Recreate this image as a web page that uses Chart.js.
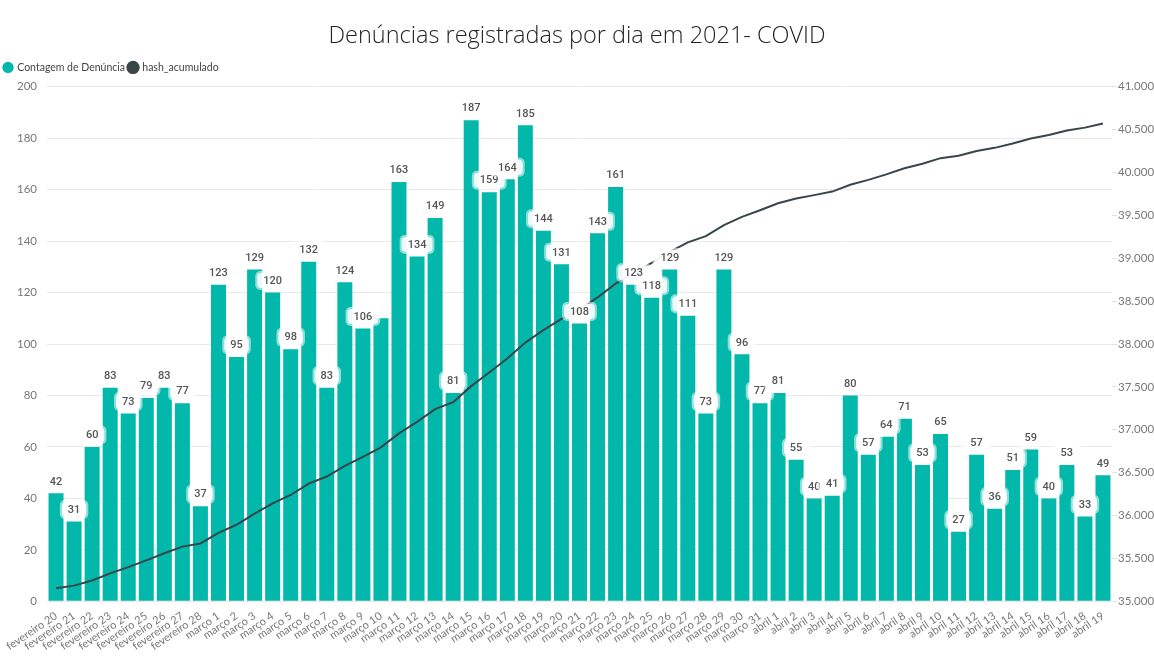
<!DOCTYPE html>
<html>
<head>
<meta charset="utf-8">
<script src="https://cdn.jsdelivr.net/npm/chart.js@4/dist/chart.umd.min.js"></script>
<style>
  html, body { margin: 0; padding: 0; background: #fff; }
  #wrap { width: 1154px; height: 665px; position: relative; }
</style>
</head>
<body>
<div id="wrap"><canvas id="denunciasChart"></canvas></div>
<script>
// dias (eixo x)
const dias = [
  'fevereiro 20', 'fevereiro 21', 'fevereiro 22', 'fevereiro 23', 'fevereiro 24', 'fevereiro 25',
  'fevereiro 26', 'fevereiro 27', 'fevereiro 28',
  'março 1', 'março 2', 'março 3', 'março 4', 'março 5', 'março 6', 'março 7', 'março 8', 'março 9',
  'março 10', 'março 11', 'março 12', 'março 13', 'março 14', 'março 15', 'março 16', 'março 17',
  'março 18', 'março 19', 'março 20', 'março 21', 'março 22', 'março 23', 'março 24', 'março 25',
  'março 26', 'março 27', 'março 28', 'março 29', 'março 30', 'março 31',
  'abril 1', 'abril 2', 'abril 3', 'abril 4', 'abril 5', 'abril 6', 'abril 7', 'abril 8', 'abril 9',
  'abril 10', 'abril 11', 'abril 12', 'abril 13', 'abril 14', 'abril 15', 'abril 16', 'abril 17',
  'abril 18', 'abril 19'
];

// Contagem de Denúncia
const contagem = [
  42, 31, 60, 83, 73, 79, 83, 77, 37,
  123, 95, 129, 120, 98, 132, 83, 124, 106, 110, 163, 134, 149, 81, 187, 159, 164, 185, 144, 131,
  108, 143, 161, 123, 118, 129, 111, 73, 129, 96, 77,
  81, 55, 40, 41, 80, 57, 64, 71, 53, 65, 27, 57, 36, 51, 59, 40, 53, 33, 49
];

// hash_acumulado (eixo direito)
const acumulado = [
  35152, 35183, 35243, 35326, 35399, 35478, 35561, 35638, 35675,
  35798, 35893, 36022, 36142, 36240, 36372, 36455, 36579, 36685, 36795, 36958, 37092, 37241, 37322,
  37509, 37668, 37832, 38017, 38161, 38292, 38400, 38543, 38704, 38827, 38945, 39074, 39185, 39258,
  39387, 39483, 39560,
  39641, 39696, 39736, 39777, 39857, 39914, 39978, 40049, 40102, 40167, 40194, 40251, 40287, 40338,
  40397, 40437, 40490, 40523, 40572
];

// rótulos que o Power BI escondeu
const rotulosOcultos = ['março 10'];

// formato 41.000
function milhar(v) {
  return String(v).replace(/\B(?=(\d{3})+(?!\d))/g, '.');
}

// Rótulos de dados por cima das barras (e da linha)
const rotulosPlugin = {
  id: 'rotulos',
  afterDatasetsDraw(chart) {
    const ctx = chart.ctx;
    const meta = chart.getDatasetMeta(0);
    ctx.save();
    ctx.font = '500 11px Roboto';
    ctx.textAlign = 'center';
    ctx.textBaseline = 'middle';
    meta.data.forEach((bar, i) => {
      if (rotulosOcultos.includes(dias[i])) return;
      const txt = String(contagem[i]);
      const w = ctx.measureText(txt).width + 12;
      const h = 15;
      const cx = bar.x;
      const cy = bar.y - 12;
      ctx.fillStyle = 'rgba(255,255,255,0.55)';
      ctx.beginPath();
      ctx.roundRect(cx - w / 2 - 2, cy - h / 2 - 2, w + 4, h + 4, 5);
      ctx.fill();
      ctx.fillStyle = 'rgba(255,255,255,0.85)';
      ctx.beginPath();
      ctx.roundRect(cx - w / 2, cy - h / 2, w, h, 4);
      ctx.fill();
      ctx.fillStyle = '#555';
      ctx.fillText(txt, cx, cy + 0.5);
    });
    ctx.restore();
  }
};

// um pouco mais de espaço abaixo da legenda
const legendaEspaco = {
  id: 'legendaEspaco',
  beforeInit(chart) {
    const fitOrig = chart.legend.fit;
    chart.legend.fit = function () {
      fitOrig.bind(chart.legend)();
      this.height += 4;
    };
  }
};

const ctx = document.getElementById('denunciasChart').getContext('2d');
var chart = new Chart(ctx, {
  type: 'bar',
  data: {
    labels: dias,
    datasets: [{
      label: 'Contagem de Denúncia',
      data: contagem,
      backgroundColor: '#01B8AA',
      borderWidth: 0,
      barPercentage: 0.83,
      categoryPercentage: 1,
      yAxisID: 'y',
      order: 1
    }, {
      type: 'line',
      label: 'hash_acumulado',
      data: acumulado,
      borderColor: '#374649',
      backgroundColor: '#374649',
      borderWidth: 2,
      pointRadius: 0,
      tension: 0,
      yAxisID: 'y2',
      order: 0
    }]
  },
  options: {
    responsive: true,
    maintainAspectRatio: false,
    animation: false,
    layout: { padding: { left: 0, right: 0, top: 0, bottom: 12 } },
    plugins: {
      title: {
        display: true,
        text: 'Denúncias registradas por dia em 2021- COVID',
        color: '#252423',
        font: { family: 'Open Sans', size: 23.5, weight: 300 },
        padding: { top: 22, bottom: 8 }
      },
      legend: {
        display: true,
        align: 'start',
        labels: {
          usePointStyle: true,
          pointStyle: 'circle',
          boxWidth: 8,
          boxHeight: 8,
          padding: 4,
          color: '#444',
          font: { family: 'Lato', size: 10.5 },
          sort: (a, b) => a.datasetIndex - b.datasetIndex
        }
      },
      tooltip: { enabled: false }
    },
    scales: {
      x: {
        offset: true,
        grid: { display: false },
        border: { display: false },
        ticks: {
          autoSkip: false,
          maxRotation: 34,
          minRotation: 34,
          color: '#777',
          padding: 0,
          font: { family: 'Lato', size: 11 }
        }
      },
      y: {
        position: 'left',
        min: 0,
        max: 200,
        afterFit: (s) => { s.width = 47; },
        ticks: {
          stepSize: 20,
          color: '#777',
          padding: 10,
          font: { family: 'Lato', size: 11.5 }
        },
        grid: { color: '#e9e9e9', drawTicks: false },
        border: { display: false }
      },
      y2: {
        position: 'right',
        min: 35000,
        max: 41000,
        afterFit: (s) => { s.width = 42; },
        ticks: {
          stepSize: 500,
          color: '#777',
          padding: 1,
          font: { family: 'Lato', size: 11.5 },
          callback: (v) => milhar(v)
        },
        grid: { drawOnChartArea: false, color: '#e3e3e3', tickLength: 5 },
        border: { display: false }
      }
    }
  },
  plugins: [rotulosPlugin, legendaEspaco]
});
</script>
</body>
</html>
